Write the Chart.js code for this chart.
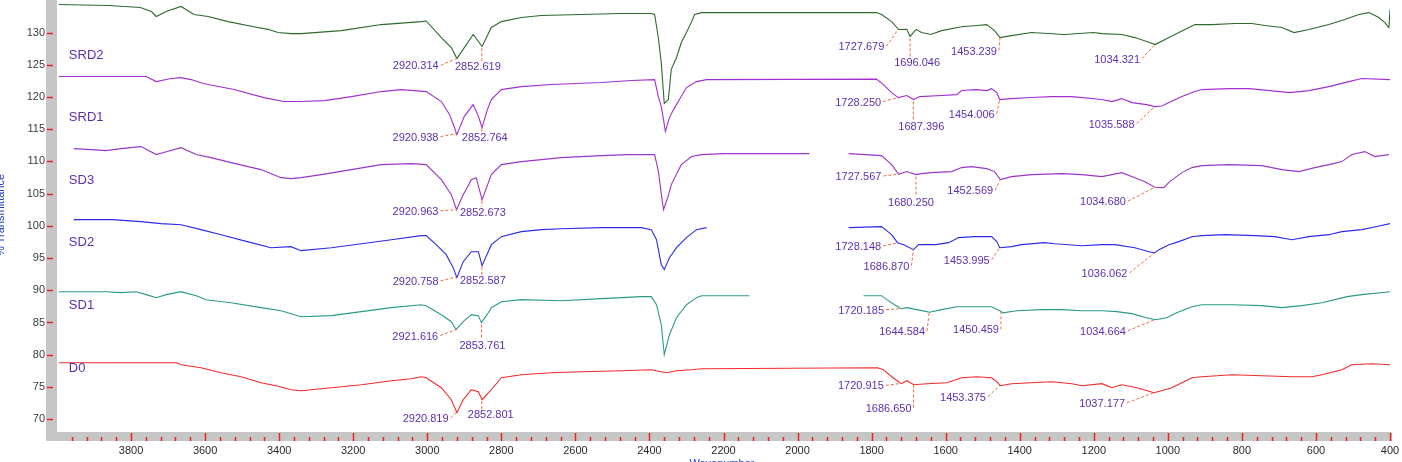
<!DOCTYPE html>
<html>
<head>
<meta charset="utf-8">
<script src="https://cdn.jsdelivr.net/npm/chart.js@4.4.1/dist/chart.umd.min.js"></script>
<style>
  body { margin: 0; background: #fff; }
  canvas { display: block; }
</style>
</head>
<body>
<canvas id="ftir" width="1402" height="462"></canvas>
<script>
// spectra: [wavenumber cm-1, %T], null = removed region
const srd2 = [[3995,134.35],[3860,134.2],[3775,133.9],[3745,133.26],[3732,132.5],[3705,133.26],[3665,134.05],[3630,132.8],[3592,132.5],[3538,131.7],[3468,130.9],[3430,130.5],[3403,130.0],[3368,129.84],[3341,129.84],[3232,130.3],[3124,131.24],[3016,131.7],[3003,131.8],[2962,129.22],[2935,127.67],[2920,125.96],[2876,129.7],[2852,127.83],[2827,130.8],[2800,131.7],[2746,132.33],[2692,132.64],[2584,132.8],[2476,132.95],[2395,132.95],[2386,132.8],[2376,129.2],[2368,125.3],[2360,119.0],[2349,119.6],[2341,124.3],[2327,126.1],[2314,128.45],[2300,130.0],[2286,131.7],[2278,132.8],[2259,133.1],[1989,133.1],[1787,133.1],[1773,132.8],[1746,131.7],[1727,130.47],[1705,130.5],[1696,129.4],[1680,130.5],[1665,130.0],[1640,129.7],[1611,130.3],[1557,130.9],[1516,131.1],[1489,131.24],[1468,130.3],[1453,129.22],[1422,129.53],[1368,130.0],[1280,129.69],[1200,130.0],[1178,129.84],[1124,129.69],[1089,129.22],[1057,128.6],[1034,128.14],[997,129.22],[954,130.47],[927,131.24],[881,131.24],[819,131.4],[773,131.4],[738,131.1],[692,130.78],[659,130.0],[619,130.47],[565,131.24],[522,132.02],[484,132.8],[457,133.1],[430,132.33],[414,131.55],[403,130.78],[400,133.6]];
const srd1 = [[3995,123.17],[3759,123.17],[3732,122.39],[3692,122.86],[3665,123.01],[3638,122.7],[3611,122.2],[3592,121.93],[3522,121.15],[3441,119.9],[3387,119.29],[3341,119.29],[3278,119.44],[3205,120.06],[3124,120.84],[3070,121.15],[3003,120.84],[2962,119.29],[2940,117.3],[2928,115.5],[2920,114.16],[2900,117.0],[2876,118.82],[2862,117.0],[2852,115.25],[2838,118.0],[2827,119.6],[2800,121.15],[2746,121.61],[2665,121.93],[2530,122.24],[2449,122.55],[2386,122.7],[2376,120.06],[2368,118.51],[2362,116.49],[2357,114.63],[2346,116.8],[2335,118.04],[2319,119.6],[2300,121.46],[2273,122.39],[2246,122.7],[1787,122.78],[1768,121.93],[1746,120.68],[1728,119.91],[1705,120.22],[1687,119.6],[1670,120.06],[1611,120.22],[1570,120.37],[1557,121.0],[1516,121.15],[1489,120.99],[1476,121.3],[1462,120.68],[1454,119.6],[1422,119.75],[1368,119.91],[1314,120.06],[1259,120.06],[1178,119.6],[1151,119.29],[1124,119.75],[1097,119.13],[1057,118.82],[1035,118.51],[1016,118.6],[997,119.13],[962,120.06],[927,120.84],[908,121.15],[835,121.3],[780,121.3],[725,120.99],[670,120.68],[619,120.99],[565,121.61],[511,122.39],[476,122.86],[400,122.7]];
const sd3 = [[3955,111.99],[3908,111.83],[3868,111.68],[3827,111.99],[3773,112.3],[3732,111.06],[3705,111.5],[3665,112.14],[3624,111.06],[3584,110.59],[3530,109.81],[3449,108.73],[3395,107.48],[3368,107.33],[3341,107.48],[3286,107.95],[3205,108.73],[3124,109.5],[3043,109.66],[3003,109.5],[2962,107.17],[2935,104.84],[2921,102.5],[2903,104.84],[2881,107.17],[2868,107.48],[2852,104.06],[2827,107.95],[2800,109.5],[2746,109.97],[2692,110.28],[2638,110.59],[2530,110.9],[2462,111.06],[2386,111.06],[2376,108.5],[2368,105.0],[2362,102.5],[2350,104.5],[2341,106.4],[2314,109.5],[2286,110.75],[2259,111.06],[2200,111.21],[1968,111.21],[1915,null],[1862,111.21],[1773,110.9],[1746,109.5],[1727,108.0],[1705,108.42],[1680,107.95],[1665,108.11],[1638,108.26],[1584,108.42],[1557,109.04],[1530,109.19],[1489,108.88],[1468,108.42],[1452,107.17],[1422,107.64],[1368,107.95],[1286,108.11],[1232,107.95],[1178,107.64],[1124,108.26],[1089,107.48],[1062,106.86],[1035,106.0],[1011,105.93],[995,106.86],[962,108.26],[935,109.04],[908,109.35],[835,109.5],[746,109.35],[692,108.73],[646,108.42],[603,109.04],[565,109.5],[530,109.97],[503,111.06],[468,111.52],[441,110.75],[403,111.06]];
const sd2 = [[3955,100.96],[3850,100.96],[3773,100.65],[3719,100.34],[3665,100.18],[3611,99.41],[3557,98.63],[3476,97.39],[3422,96.61],[3368,96.77],[3341,96.15],[3259,96.61],[3178,97.23],[3097,97.85],[3016,98.48],[3003,98.48],[2976,97.08],[2949,95.53],[2930,93.51],[2920,91.96],[2903,94.44],[2881,95.99],[2862,95.99],[2852,93.82],[2827,97.08],[2800,98.32],[2746,99.1],[2692,99.41],[2638,99.56],[2530,99.72],[2422,99.72],[2395,99.41],[2381,97.85],[2368,93.97],[2360,93.2],[2346,95.06],[2327,96.61],[2300,98.17],[2273,99.41],[2246,99.72],[2000,null],[1862,99.72],[1773,99.88],[1746,98.63],[1730,97.39],[1713,97.08],[1687,96.3],[1673,97.08],[1627,97.08],[1592,97.39],[1565,98.17],[1522,98.32],[1476,98.32],[1462,97.55],[1454,96.61],[1422,96.77],[1395,97.08],[1333,97.39],[1305,97.23],[1232,96.92],[1178,97.08],[1143,97.08],[1089,96.61],[1051,95.99],[1036,95.8],[1024,96.3],[997,97.08],[970,97.55],[935,98.32],[908,98.48],[846,98.63],[765,98.48],[711,98.32],[665,97.85],[619,98.32],[565,98.63],[530,99.1],[476,99.41],[435,99.9],[400,100.34]];
const sd1 = [[3995,89.78],[3868,89.78],[3827,89.63],[3786,89.78],[3759,89.32],[3732,88.85],[3705,89.32],[3665,89.78],[3624,89.16],[3597,88.54],[3530,88.07],[3449,87.3],[3395,86.83],[3341,85.9],[3259,86.06],[3178,86.68],[3097,87.3],[3016,87.76],[3003,87.61],[2962,86.21],[2935,85.12],[2922,83.88],[2903,85.12],[2881,86.21],[2862,86.06],[2854,84.97],[2835,86.5],[2827,87.3],[2800,88.23],[2746,88.54],[2638,88.38],[2530,88.7],[2422,89.01],[2395,89.01],[2381,87.76],[2368,84.66],[2360,80.0],[2346,83.1],[2327,85.74],[2300,87.76],[2273,88.85],[2259,89.16],[2130,89.16],[2000,null],[1822,89.16],[1773,89.16],[1759,88.54],[1738,87.76],[1720,87.14],[1705,87.3],[1678,86.99],[1651,86.68],[1644,86.6],[1611,86.99],[1570,87.45],[1530,87.45],[1476,87.45],[1449,86.68],[1446,86.5],[1408,86.83],[1341,86.99],[1286,86.99],[1232,86.83],[1178,86.83],[1138,86.68],[1097,86.37],[1057,85.74],[1034,85.43],[1003,85.74],[976,86.52],[935,87.45],[908,87.76],[827,87.76],[746,87.61],[692,87.3],[638,87.61],[584,88.07],[516,89.01],[476,89.32],[400,89.78]];
const d0 = [[3995,78.76],[3678,78.76],[3665,78.45],[3611,77.98],[3557,77.2],[3503,76.58],[3449,75.65],[3408,75.19],[3368,74.56],[3341,74.41],[3259,74.87],[3178,75.34],[3097,75.96],[3043,76.27],[3016,76.58],[3003,76.43],[2962,74.87],[2935,73.01],[2920,70.99],[2903,73.01],[2881,74.56],[2862,74.25],[2852,73.01],[2827,74.56],[2800,76.43],[2746,76.89],[2665,77.2],[2584,77.36],[2476,77.51],[2395,77.67],[2368,77.36],[2354,77.2],[2327,77.51],[2286,77.67],[2259,77.82],[1784,77.98],[1768,77.67],[1746,76.58],[1727,75.81],[1720,75.5],[1705,75.96],[1686,75.34],[1651,75.5],[1597,75.65],[1557,76.43],[1516,76.58],[1476,76.43],[1462,75.81],[1453,75.19],[1422,75.5],[1368,75.65],[1314,75.81],[1259,75.5],[1232,75.19],[1178,75.5],[1151,74.87],[1124,75.34],[1084,74.87],[1037,74.1],[989,74.87],[935,76.43],[908,76.58],[827,76.89],[746,76.74],[665,76.58],[611,76.58],[584,76.89],[530,77.67],[503,78.45],[449,78.6],[400,78.45]];

// labelled peak positions (cm-1)
const srd2Peaks = [2920.314, 2852.619, 1727.679, 1696.046, 1453.239, 1034.321];
const srd1Peaks = [2920.938, 2852.764, 1728.250, 1687.396, 1454.006, 1035.588];
const sd3Peaks = [2920.963, 2852.673, 1727.567, 1680.250, 1452.569, 1034.680];
const sd2Peaks = [2920.758, 2852.587, 1728.148, 1686.870, 1453.995, 1036.062];
const sd1Peaks = [2921.616, 2853.761, 1720.185, 1644.584, 1450.459, 1034.664];
const d0Peaks = [2920.819, 2852.801, 1720.915, 1686.650, 1453.375, 1037.177];

const sampleNames = ['SRD2', 'SRD1', 'SD3', 'SD2', 'SD1', 'D0'];

// label placement (px offsets of text centre from the peak) and name anchors
const labelOffsets = [
  [[-41, 8], [-4, 21], [-37, 18], [7, 27], [-26, 14], [-38, 15]],
  [[-41, 4], [3, 11], [-40, 5], [8, 27], [-28, 15], [-43, 18]],
  [[-41, 2], [1, 14], [-40, 3], [-5, 28], [-30, 12], [-52, 15]],
  [[-41, 5], [1, 16], [-40, 4], [-27, 17], [-33, 13], [-50, 21]],
  [[-41, 7], [1, 23], [-40, 2], [-27, 20], [-25, 19], [-52, 12]],
  [[-31, 7], [9, 16], [-40, 3], [-25, 24], [-37, 12], [-52, 11]]
];
const nameAnchors = [126.4, 116.8, 107.0, 97.4, 87.6, 77.8];

const spectra = [srd2, srd1, sd3, sd2, sd1, d0];
const peaks = [srd2Peaks, srd1Peaks, sd3Peaks, sd2Peaks, sd1Peaks, d0Peaks];
const colors = ['#2e6a2e', '#a22fd0', '#9a35c8', '#2b2bea', '#2a9a88', '#f42a2a'];

const FONT = '"Liberation Sans", Arial, sans-serif';
const LABEL_COLOR = '#5c2fb0';
const LEADER_COLOR = '#f26a3a';

function interp(series, wn) {
  for (let i = 0; i < series.length - 1; i++) {
    const a = series[i], b = series[i + 1];
    if (a[1] == null || b[1] == null) continue;
    if (wn <= a[0] && wn >= b[0]) {
      const t = (a[0] - wn) / (a[0] - b[0]);
      return a[1] + t * (b[1] - a[1]);
    }
  }
  return null;
}

const ftirDecor = {
  id: 'ftirDecor',
  beforeDraw(chart) {
    const { ctx, chartArea: ca } = chart;
    ctx.save();
    ctx.fillStyle = '#c6c6c6';
    ctx.fillRect(ca.left - 11, 0, 11, ca.bottom + 9);
    ctx.fillRect(ca.left - 11, ca.bottom, ca.right - ca.left + 13, 9);
    ctx.restore();
  },
  afterDraw(chart) {
    const { ctx, chartArea: ca } = chart;
    const xs = chart.scales.x, ys = chart.scales.y;
    ctx.save();
    // tick marks
    ctx.strokeStyle = '#ee2222';
    ctx.lineWidth = 1.5;
    ys.ticks.forEach(t => {
      const y = Math.round(ys.getPixelForValue(t.value)) + 0.5;
      ctx.beginPath();
      ctx.moveTo(ca.left - 10, y);
      ctx.lineTo(ca.left - 4, y);
      ctx.stroke();
    });
    for (let v = 400; v < 4000; v += 40) {
      const x = Math.round(xs.getPixelForValue(v)) + 0.5;
      const major = v % 200 === 0;
      ctx.beginPath();
      ctx.moveTo(x, ca.bottom + (major ? 1 : 5));
      ctx.lineTo(x, ca.bottom + 9);
      ctx.stroke();
    }

    // sample names
    ctx.font = '13px ' + FONT;
    ctx.fillStyle = LABEL_COLOR;
    ctx.textAlign = 'left';
    ctx.textBaseline = 'middle';
    sampleNames.forEach((n, i) => {
      ctx.fillText(n, xs.getPixelForValue(3968), ys.getPixelForValue(nameAnchors[i]));
    });

    // peak labels with leaders
    ctx.font = '11px ' + FONT;
    peaks.forEach((list, si) => {
      list.forEach((wn, pi) => {
        const val = interp(spectra[si], wn);
        if (val == null) return;
        const px = xs.getPixelForValue(wn), py = ys.getPixelForValue(val);
        const [dx, dy] = labelOffsets[si][pi];
        const cx = px + dx, cy = py + dy;
        const txt = wn.toFixed(3);
        const hw = ctx.measureText(txt).width / 2;
        ctx.strokeStyle = LEADER_COLOR;
        ctx.lineWidth = 1;
        ctx.setLineDash([3, 2]);
        ctx.beginPath();
        if (px >= cx - hw && px <= cx + hw) {
          ctx.moveTo(px, py + 2);
          ctx.lineTo(px, cy - 6);
        } else if (px > cx + hw) {
          ctx.moveTo(cx + hw + 2, cy - 1);
          ctx.lineTo(px, py);
        } else {
          ctx.moveTo(cx - hw - 2, cy - 1);
          ctx.lineTo(px, py);
        }
        ctx.stroke();
        ctx.setLineDash([]);
        ctx.fillStyle = LABEL_COLOR;
        ctx.textAlign = 'center';
        ctx.fillText(txt, cx, cy);
      });
    });

    // axis titles (cropped in the original)
    ctx.fillStyle = '#2040c0';
    ctx.font = '11px ' + FONT;
    ctx.textAlign = 'center';
    ctx.textBaseline = 'top';
    ctx.fillText('Wavenumber', 722, 458);
    ctx.translate(1, 215);
    ctx.rotate(-Math.PI / 2);
    ctx.textBaseline = 'middle';
    ctx.fillText('% Transmittance', 0, 0);
    ctx.restore();
  }
};

new Chart(document.getElementById('ftir'), {
  type: 'line',
  data: {
    datasets: spectra.map((s, i) => ({
      label: sampleNames[i],
      data: s.map(p => ({ x: p[0], y: p[1] })),
      borderColor: colors[i],
      borderWidth: 1.1,
      pointRadius: 0,
      tension: 0,
      spanGaps: false,
      fill: false
    }))
  },
  options: {
    responsive: false,
    animation: false,
    events: [],
    layout: { padding: { top: 1, right: 12, left: 0, bottom: 0 } },
    plugins: { legend: { display: false }, tooltip: { enabled: false } },
    scales: {
      x: {
        type: 'linear',
        reverse: true,
        min: 400,
        max: 4000,
        grid: { display: false, drawTicks: false },
        border: { display: false },
        afterBuildTicks: s => { s.ticks = s.ticks.filter(t => t.value < 4000 && t.value % 200 === 0); },
        afterFit: s => { s.height = 30; s.paddingLeft = 0; s.paddingRight = 0; },
        ticks: {
          stepSize: 200,
          autoSkip: false,
          maxRotation: 0,
          padding: 12,
          color: '#2a2a2a',
          font: { family: FONT, size: 11 },
          callback: v => String(v)
        }
      },
      y: {
        min: 68,
        max: 134.9,
        grid: { display: false, drawTicks: false },
        border: { display: false },
        afterBuildTicks: s => { s.ticks = s.ticks.filter(t => t.value % 5 === 0); },
        afterFit: s => { s.width = 57; s.paddingTop = 0; s.paddingBottom = 0; },
        ticks: {
          stepSize: 5,
          includeBounds: false,
          autoSkip: false,
          padding: 12,
          color: '#3a3a3a',
          font: { family: FONT, size: 11 },
          callback: v => String(v)
        }
      }
    }
  },
  plugins: [ftirDecor]
});
</script>
</body>
</html>
